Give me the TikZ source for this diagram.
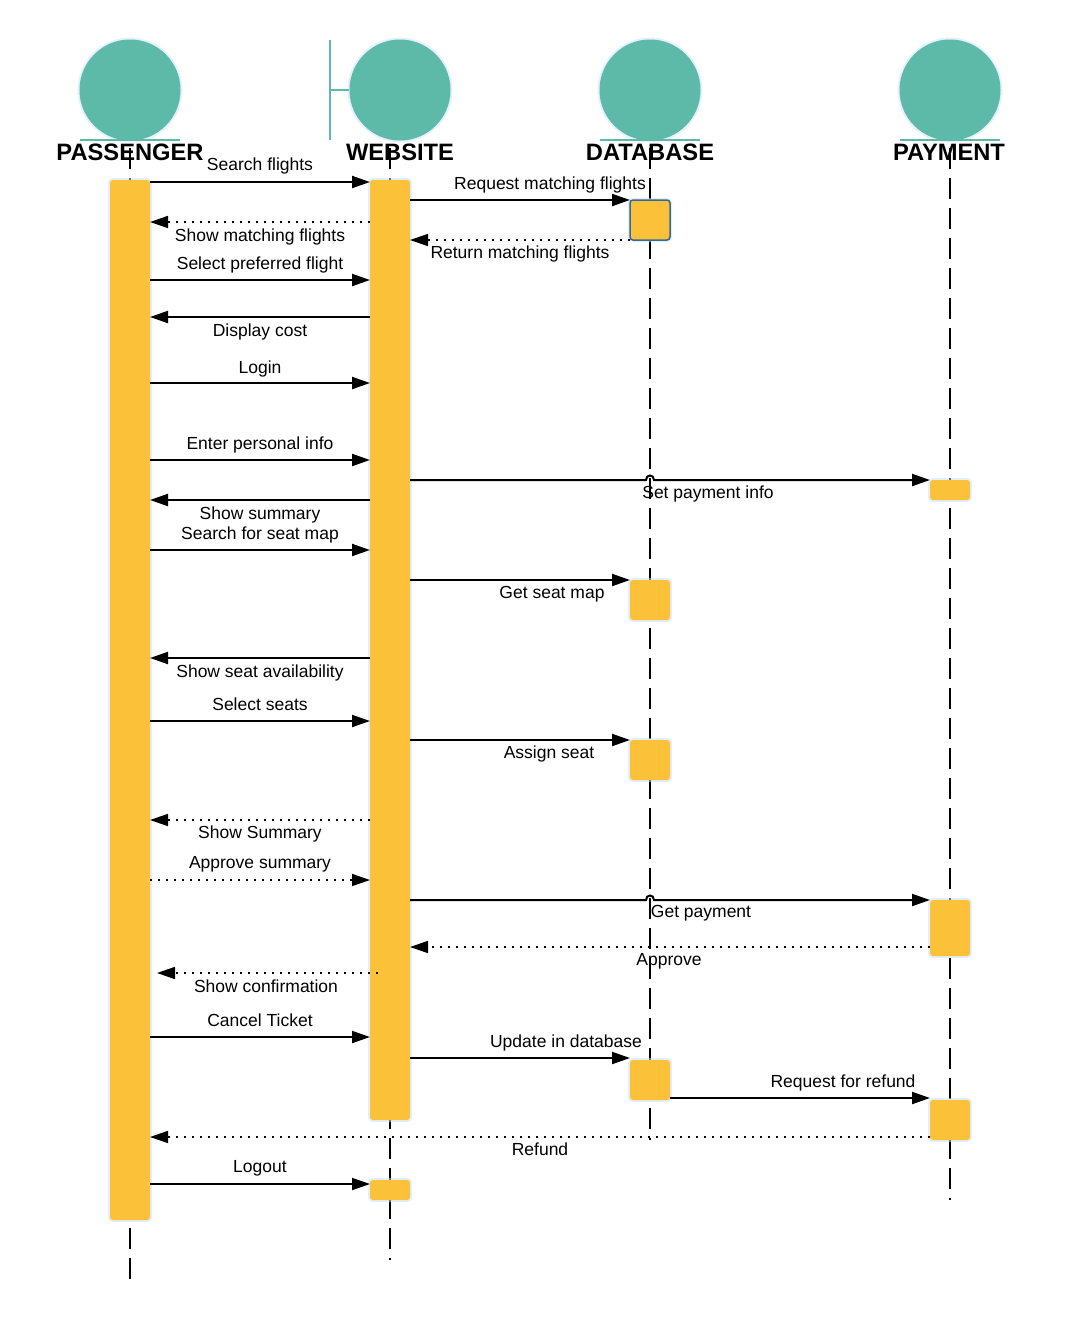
\documentclass[tikz,border=0pt]{standalone}
\usepackage{fontspec}
\setmainfont{Liberation Sans}
\usetikzlibrary{arrows.meta}
\definecolor{tealc}{RGB}{93,185,168}
\definecolor{bary}{RGB}{251,194,57}
\definecolor{glowc}{RGB}{196,222,248}
\definecolor{selb}{RGB}{55,105,150}
\newcommand\mymsg[5]{\coordinate (#2a) at (#3,#5); \coordinate (#2b) at (#4,#5); \draw[#1] (#2a) -- (#2b);}
\begin{document}
\begin{tikzpicture}[x=1pt,y=-1pt,
  lbl/.style={font=\fontsize{17.5}{20}\selectfont, anchor=base, inner sep=0pt},
  hdr/.style={font=\fontsize{23.7}{28}\selectfont\bfseries, anchor=base, inner sep=0pt},
  actor/.style={circle, fill=tealc, minimum size=101pt, inner sep=0pt,
    preaction={draw=glowc, line width=4pt, opacity=0.45}},
  bar/.style={rectangle, fill=bary, rounded corners=3pt, minimum width=40pt, inner sep=0pt,
    preaction={draw=glowc, line width=4pt, opacity=0.5}},
  life/.style={line width=2pt, dash pattern=on 21pt off 9pt},
  sym/.style={draw=tealc, line width=2pt},
  msg/.style={line width=2pt, -{Triangle[length=18pt,width=12pt]}},
  ret/.style={line width=1.6pt, dash pattern=on 1.6pt off 6.4pt, -{Triangle[length=18pt,width=12pt]}}]
\useasboundingbox (0,0) rectangle (1080,1320);

% actors
\node[actor] (pc) at (130,90) {};
\node[actor] (wc) at (400,90) {};
\node[actor] (dc) at (650,90) {};
\node[actor] (yc) at (950,90) {};
\coordinate (wbt) at (330,40); \coordinate (wbb) at (330,140);
\coordinate (wbm) at (330,90); \coordinate (wbr) at (349,90);
\draw[sym] (wbt) -- (wbb); \draw[sym] (wbm) -- (wbr);
\coordinate (pu1) at (80,140); \coordinate (pu2) at (180,140);
\coordinate (du1) at (600,140); \coordinate (du2) at (700,140);
\coordinate (yu1) at (900,140); \coordinate (yu2) at (1000,140);
\draw[sym] (pu1) -- (pu2); \draw[sym] (du1) -- (du2); \draw[sym] (yu1) -- (yu2);

\node[hdr] (ph) at (130,160) {PASSENGER};
\node[hdr] (wh) at (400,160) {WEBSITE};
\node[hdr] (dh) at (650,160) {DATABASE};
\node[hdr] (yh) at (949,160) {PAYMENT};

% lifelines
\coordinate (pl1) at (130,148); \coordinate (pl2) at (130,1280);
\coordinate (wl1) at (390,148); \coordinate (wl2) at (390,1260);
\coordinate (dl1) at (650,148); \coordinate (dl2) at (650,1140);
\coordinate (yl1) at (950,148); \coordinate (yl2) at (950,1200);
\draw[life] (pl1) -- (pl2);
\draw[life] (wl1) -- (wl2);
\draw[life] (dl1) -- (dl2);
\draw[life] (yl1) -- (yl2);

% activation bars
\node[bar, minimum height=1040pt] (pbar) at (130,700) {};
\node[bar, minimum height=940pt] (wbar) at (390,650) {};
\node[bar, minimum height=20pt] (wbar2) at (390,1190) {};
\node[bar, minimum height=40pt, draw=selb, line width=1.5pt] (d1) at (650,220) {};
\node[bar, minimum height=40pt] (d2) at (650,600) {};
\node[bar, minimum height=40pt] (d3) at (650,760) {};
\node[bar, minimum height=40pt] (d4) at (650,1080) {};
\node[bar, minimum height=20pt] (y1) at (950,490) {};
\node[bar, minimum height=56pt] (y2) at (950,928) {};
\node[bar, minimum height=40pt] (y3) at (950,1120) {};

% messages
\mymsg{msg}{m1}{150}{370}{182}
\mymsg{msg}{m2}{410}{630}{200}
\mymsg{ret}{m3}{370}{150}{222}
\mymsg{ret}{m4}{630}{410}{240}
\mymsg{msg}{m5}{150}{370}{280}
\mymsg{msg}{m6}{370}{150}{317}
\mymsg{msg}{m7}{150}{370}{383}
\mymsg{msg}{m8}{150}{370}{460}
\coordinate (m9a) at (410,480); \coordinate (m9b) at (930,480);
\draw[msg] (m9a) -- (646,480) .. controls (646,474) and (654,474) .. (654,480) -- (m9b);
\mymsg{msg}{m10}{370}{150}{500}
\mymsg{msg}{m11}{150}{370}{550}
\mymsg{msg}{m12}{410}{630}{580}
\mymsg{msg}{m13}{370}{150}{658}
\mymsg{msg}{m14}{150}{370}{721}
\mymsg{msg}{m15}{410}{630}{740}
\mymsg{ret}{m16}{370}{150}{820}
\mymsg{ret}{m17}{150}{370}{880}
\coordinate (m18a) at (410,900); \coordinate (m18b) at (930,900);
\draw[msg] (m18a) -- (646,900) .. controls (646,894) and (654,894) .. (654,900) -- (m18b);
\mymsg{ret}{m19}{930}{410}{947}
\mymsg{ret}{m20}{378}{157}{973}
\mymsg{msg}{m21}{150}{370}{1037}
\mymsg{msg}{m22}{410}{630}{1058}
\mymsg{msg}{m23}{670}{930}{1098}
\mymsg{ret}{m24}{930}{150}{1137}
\mymsg{msg}{m25}{150}{370}{1184}

% labels
\node[lbl] (l1) at (260,170) {Search flights};
\node[lbl] (l2) at (550,189) {Request matching flights};
\node[lbl] (l3) at (260,241) {Show matching flights};
\node[lbl] (l4) at (520,258) {Return matching flights};
\node[lbl] (l5) at (260,269) {Select preferred flight};
\node[lbl] (l6) at (260,336) {Display cost};
\node[lbl] (l7) at (260,373) {Login};
\node[lbl] (l8) at (260,449) {Enter personal info};
\node[lbl] (l9) at (708,498) {Set payment info};
\node[lbl] (l10) at (260,519) {Show summary};
\node[lbl] (l11) at (260,539) {Search for seat map};
\node[lbl] (l12) at (552,598) {Get seat map};
\node[lbl] (l13) at (260,677) {Show seat availability};
\node[lbl] (l14) at (260,710) {Select seats};
\node[lbl] (l15) at (549,758) {Assign seat};
\node[lbl] (l16) at (260,838) {Show Summary};
\node[lbl] (l17) at (260,868) {Approve summary};
\node[lbl] (l18) at (701,917) {Get payment};
\node[lbl] (l19) at (669,965) {Approve};
\node[lbl] (l20) at (266,992) {Show confirmation};
\node[lbl] (l21) at (260,1026) {Cancel Ticket};
\node[lbl] (l22) at (566,1047) {Update in database};
\node[lbl] (l23) at (843,1087) {Request for refund};
\node[lbl] (l24) at (540,1155) {Refund};
\node[lbl] (l25) at (260,1172) {Logout};
\end{tikzpicture}
\end{document}
